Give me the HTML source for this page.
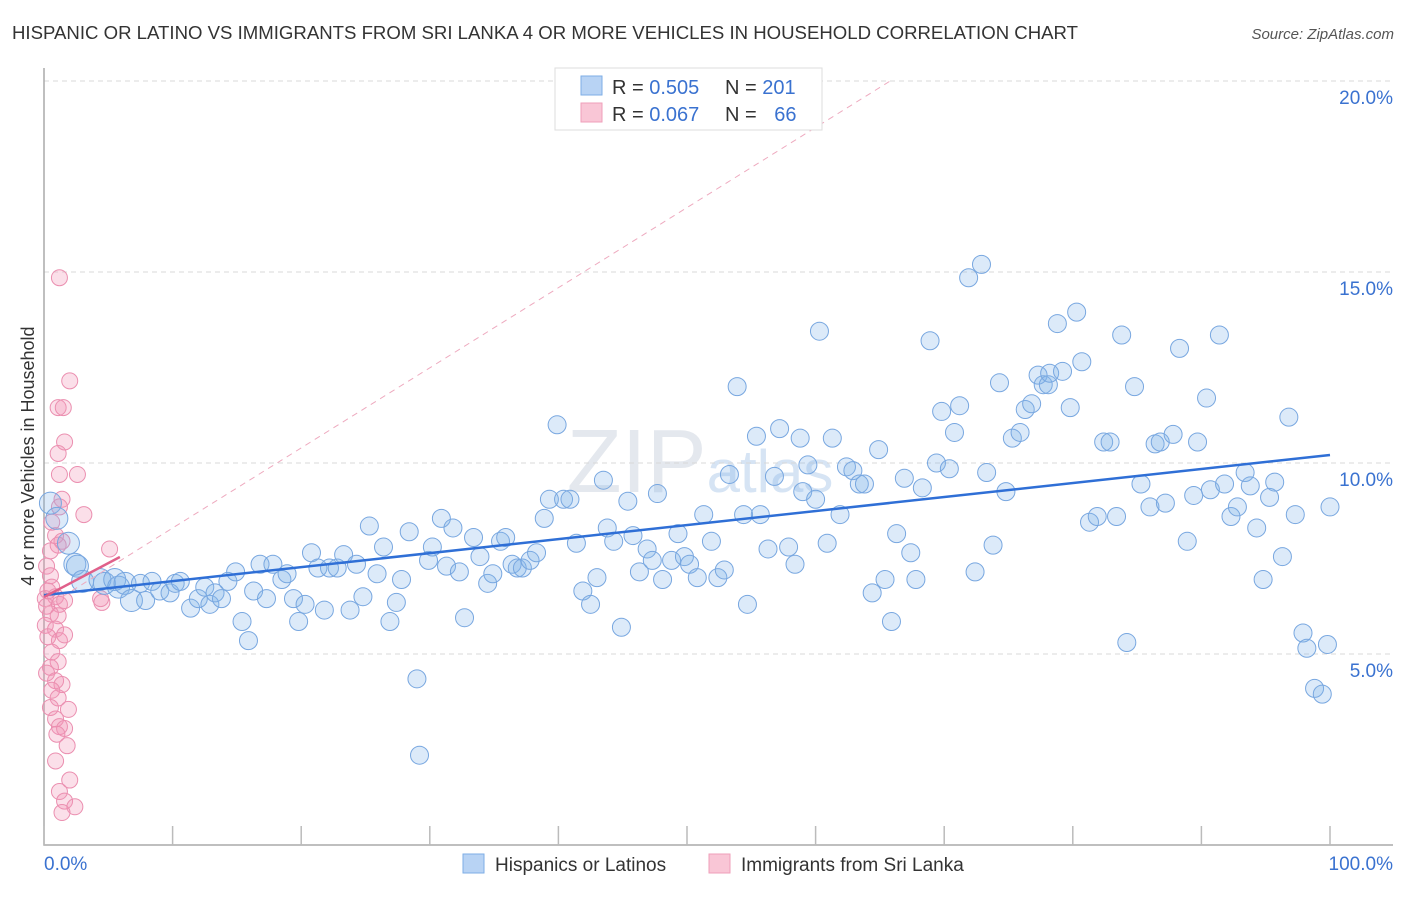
<!DOCTYPE html>
<html><head><meta charset="utf-8"><style>
body{margin:0;background:#fff;font-family:"Liberation Sans",sans-serif}
svg text{font-family:"Liberation Sans",sans-serif}
</style></head><body>
<svg id="c" width="1406" height="892">
<text x="12" y="39" font-size="18" fill="#333" textLength="1066" lengthAdjust="spacingAndGlyphs">HISPANIC OR LATINO VS IMMIGRANTS FROM SRI LANKA 4 OR MORE VEHICLES IN HOUSEHOLD CORRELATION CHART</text>
<text x="1394" y="39" font-size="15" fill="#555" font-style="italic" text-anchor="end">Source: ZipAtlas.com</text>
<text transform="translate(34,456) rotate(-90)" font-size="18" fill="#333" text-anchor="middle">4 or more Vehicles in Household</text>
<text x="700" y="492" font-size="90" fill="#e4e8ee" text-anchor="middle" font-family="Liberation Serif">ZIP<tspan font-size="60" fill="#d6e4f4" font-family="Liberation Sans">atlas</tspan></text>
<g id="grid"></g><g id="axes"></g><g id="pink"></g><g id="blue"></g><g id="lines"></g>
<g>
<rect x="555" y="68" width="267" height="62" fill="#fff" stroke="#ddd"/>
<rect x="581" y="76" width="21" height="19" fill="#b8d3f4" stroke="#7eaee6"/>
<rect x="581" y="103" width="21" height="19" fill="#f9c6d6" stroke="#ef9fba"/>
<text x="612" y="94" font-size="20" fill="#333">R = <tspan fill="#3a72d0">0.505</tspan></text>
<text x="725" y="94" font-size="20" fill="#333">N = <tspan fill="#3a72d0">201</tspan></text>
<text x="612" y="121" font-size="20" fill="#333">R = <tspan fill="#3a72d0">0.067</tspan></text>
<text x="725" y="121" font-size="20" fill="#333">N = <tspan fill="#3a72d0" dx="12">66</tspan></text>
</g>
<g>
<rect x="463" y="854" width="21" height="19" fill="#b8d3f4" stroke="#7eaee6"/>
<text x="495" y="871" font-size="19" fill="#333">Hispanics or Latinos</text>
<rect x="709" y="854" width="21" height="19" fill="#f9c6d6" stroke="#ef9fba"/>
<text x="741" y="871" font-size="19" fill="#333">Immigrants from Sri Lanka</text>
</g>
</svg>
<script>
const blueX=[0.5,1.0,1.9,2.4,2.6,3.0,4.35,4.7,5.5,5.8,6.3,6.8,7.5,7.9,8.4,9.0,9.8,10.2,10.6,11.4,12.0,12.5,12.9,13.3,13.8,14.3,14.9,15.4,15.9,16.3,16.8,17.3,17.8,18.5,18.9,19.4,19.8,20.3,20.8,21.3,21.8,22.2,22.8,23.3,23.8,24.3,24.8,25.3,25.9,26.4,26.9,27.4,27.8,28.4,29.0,29.2,29.9,30.2,30.9,31.3,31.8,32.3,32.7,33.4,33.9,34.5,34.9,35.5,35.9,36.4,36.8,37.2,37.8,38.3,38.9,39.9,39.3,40.4,40.9,41.4,41.9,42.5,43.0,43.5,43.8,44.3,44.9,45.4,45.8,46.3,46.9,47.3,47.7,48.1,48.8,49.3,49.8,50.2,50.8,51.3,51.9,52.4,52.9,53.3,53.9,54.4,54.7,55.4,55.7,56.3,56.8,57.2,57.9,58.4,58.8,59.0,59.4,60.0,60.3,60.9,61.3,61.9,62.4,62.9,63.4,63.8,64.4,64.9,65.4,65.9,66.3,66.9,67.4,67.8,68.3,68.9,69.4,69.8,70.4,70.8,71.2,71.9,72.4,72.9,73.3,73.8,74.3,74.8,75.3,75.9,76.3,76.8,77.3,77.7,78.1,78.2,78.8,79.2,79.8,80.3,80.7,81.3,81.9,82.4,82.9,83.4,83.8,84.2,84.8,85.3,86.0,86.4,86.8,87.2,87.8,88.3,88.9,89.4,89.7,90.4,90.7,91.4,91.8,92.3,92.8,93.4,93.8,94.3,94.8,95.3,95.7,96.3,96.8,97.3,97.9,98.2,98.8,99.4,99.8,100];
const blueY=[8.95,8.55,7.9,7.35,7.3,6.9,6.95,6.85,6.95,6.75,6.85,6.4,6.85,6.4,6.9,6.65,6.6,6.85,6.9,6.2,6.45,6.75,6.3,6.6,6.45,6.9,7.15,5.85,5.35,6.65,7.35,6.45,7.35,6.95,7.1,6.45,5.85,6.3,7.65,7.25,6.15,7.25,7.25,7.6,6.15,7.35,6.5,8.35,7.1,7.8,5.85,6.35,6.95,8.2,4.35,2.35,7.45,7.8,8.55,7.3,8.3,7.15,5.95,8.05,7.55,6.85,7.1,7.95,8.05,7.35,7.25,7.25,7.45,7.65,8.55,11.0,9.05,9.05,9.05,7.9,6.65,6.3,7.0,9.55,8.3,7.95,5.7,9.0,8.1,7.15,7.75,7.45,9.2,6.95,7.45,8.15,7.55,7.35,7.0,8.65,7.95,7.0,7.2,9.7,12.0,8.65,6.3,10.7,8.65,7.75,9.65,10.9,7.8,7.35,10.65,9.25,9.95,9.05,13.45,7.9,10.65,8.65,9.9,9.8,9.45,9.45,6.6,10.35,6.95,5.85,8.15,9.6,7.65,6.95,9.35,13.2,10.0,11.35,9.85,10.8,11.5,14.85,7.15,15.2,9.75,7.85,12.1,9.25,10.65,10.8,11.4,11.55,12.3,12.05,12.05,12.35,13.65,12.4,11.45,13.95,12.65,8.45,8.6,10.55,10.55,8.6,13.35,5.3,12.0,9.45,8.85,10.5,10.55,8.95,10.75,13.0,7.95,9.15,10.55,11.7,9.3,13.35,9.45,8.6,8.85,9.75,9.4,8.3,6.95,9.1,9.5,7.55,11.2,8.65,5.55,5.15,4.1,3.95,5.25,8.85];
const pinkX=[1.2,2.0,1.1,1.5,1.6,1.1,1.2,2.6,1.4,1.2,3.1,0.6,0.9,1.4,1.1,0.5,5.1,0.2,0.5,0.6,0.3,0.1,0.9,0.2,1.2,1.6,0.5,1.1,4.5,4.4,0.1,0.9,0.3,1.2,1.6,0.6,1.1,0.5,0.2,0.9,1.4,0.6,1.1,0.5,1.9,0.9,1.2,1.6,1.0,1.8,0.9,2.0,1.2,1.6,2.4,1.4];
const pinkY=[14.85,12.15,11.45,11.45,10.55,10.25,9.7,9.7,9.05,8.85,8.65,8.45,8.1,7.95,7.85,7.7,7.75,7.3,7.05,6.75,6.65,6.45,6.5,6.25,6.3,6.4,6.05,6.0,6.35,6.45,5.75,5.65,5.45,5.35,5.5,5.05,4.8,4.65,4.5,4.3,4.2,4.05,3.85,3.6,3.55,3.3,3.1,3.05,2.9,2.6,2.2,1.7,1.4,1.15,1.0,0.85];
const blueTrend=[[0,6.54],[100,10.21]];
const pinkTrend=[[0,6.49],[5.9,7.54]];
const diagTrend=[[0,6.2],[65.8,20.0]];
const yTicks=[5,10,15,20];
const xTicks=[0,10,20,30,40,50,60,70,80,90,100];
const NS='http://www.w3.org/2000/svg';
const X=v=>44+12.86*v, Y=v=>845-38.2*v;
function mk(t,a,p){const e=document.createElementNS(NS,t);for(const k in a)e.setAttribute(k,a[k]);document.getElementById(p).appendChild(e);return e;}
yTicks.forEach(v=>{
 const g=mk('line',{x1:44,x2:1393,y1:Y(v),y2:Y(v),stroke:'#d8d8d8','stroke-dasharray':'5,4'},'grid');
 
 
 const t=mk('text',{x:1393,y:Y(v)+23,'font-size':19,fill:'#3a72d0','text-anchor':'end'},'grid');
 t.textContent=v.toFixed(1)+'%';
 
 
});
const ax=mk('path',{d:'M44,68V845H1393',fill:'none',stroke:'#aaa','stroke-width':1.5},'axes');


xTicks.forEach(v=>{
 const l=mk('line',{x1:X(v),x2:X(v),y1:826,y2:845,stroke:'#bbb','stroke-width':1.5},'axes');
 
 
});
[['0.0%',44,'start'],['100.0%',1393,'end']].forEach(a=>{
 const t=mk('text',{x:a[1],y:870,'font-size':19,fill:'#3a72d0','text-anchor':a[2]},'axes');
 t.textContent=a[0];
 
 
});
pinkX.forEach((x,i)=>{
 const c=mk('circle',{cx:X(x),cy:Y(pinkY[i]),r:8,fill:'rgba(242,150,182,0.3)',stroke:'#eb8fb0','stroke-width':1},'pink');
 
 
});
blueX.forEach((x,i)=>{
 const c=mk('circle',{cx:X(x),cy:Y(blueY[i]),r:i<12?11:9,fill:'rgba(130,178,232,0.28)',stroke:'#78a7e0','stroke-width':1},'blue');
 
 
});
function ln(d,st,w,dash,name){
 const e=mk('line',{x1:X(d[0][0]),y1:Y(d[0][1]),x2:X(d[1][0]),y2:Y(d[1][1]),stroke:st,'stroke-width':w},'lines');
 if(dash)e.setAttribute('stroke-dasharray',dash);
 
 
}
ln(diagTrend,'#eeaabf',1,'6,5','diagonal-reference-line');
ln(blueTrend,'#2f6fd6',2.5,null,'blue-trend-line');
ln(pinkTrend,'#e0608a',2.5,null,'pink-trend-line');
</script>
</body></html>
